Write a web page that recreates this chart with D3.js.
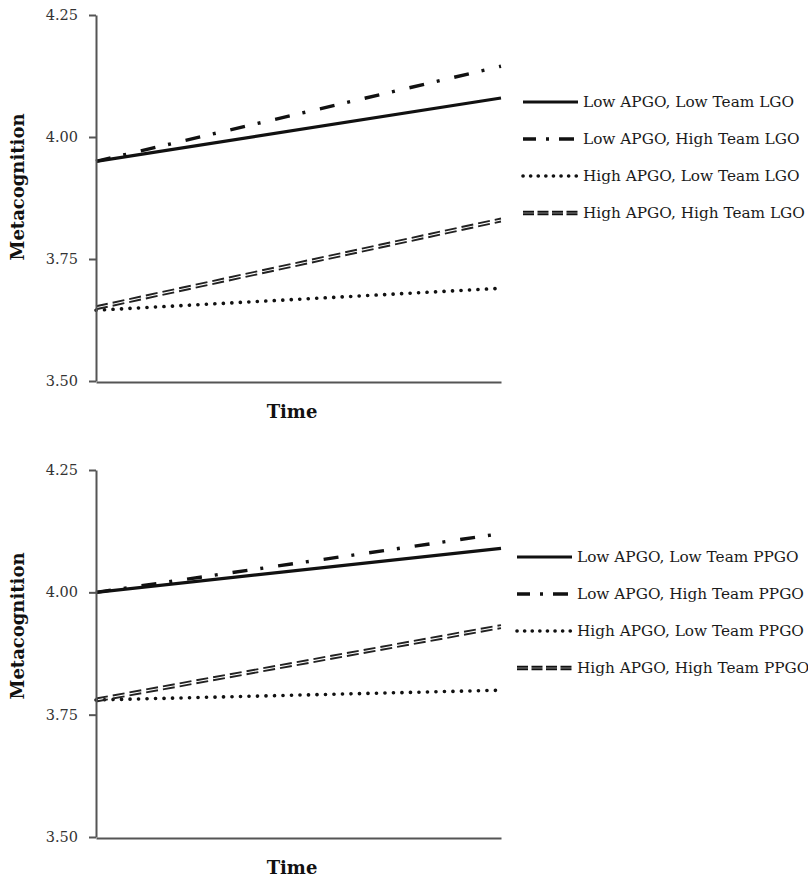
<!DOCTYPE html>
<html>
<head>
<meta charset="utf-8">
<script src="https://cdn.jsdelivr.net/npm/d3@7"></script>
<style>
  body { margin: 0; background: #fff; }
  svg { display: block; }
  .axis path, .axis line { stroke: #555; stroke-width: 2; }
  .title { font-family: "DejaVu Serif", serif; font-weight: bold; fill: #111; }
  .legend text { font-family: "DejaVu Serif", serif; font-size: 15.3px; fill: #1a1a1a; }
</style>
</head>
<body>
<svg id="chart" width="808" height="877"></svg>
<script>
// tick labels shared by both panels
var yTicks = [3.50, 3.75, 4.00, 4.25];
var timeDomain = [0, 1];

// panel 1: learning goal orientation
var lgoLabels = ["Low APGO, Low Team LGO", "Low APGO, High Team LGO",
                 "High APGO, Low Team LGO", "High APGO, High Team LGO"];
var lgoStart = [3.95, 3.95, 3.645, 3.65];
var lgoEnd   = [4.08, 4.145, 3.69, 3.83];

// panel 2: performance prove goal orientation
var ppgoLabels = ["Low APGO, Low Team PPGO", "Low APGO, High Team PPGO",
                  "High APGO, Low Team PPGO", "High APGO, High Team PPGO"];
var ppgoStart = [4.00, 4.00, 3.78, 3.78];
var ppgoEnd   = [4.09, 4.12, 3.80, 3.93];

// line styles, one per series
var styles = [
  { dash: null,          width: 3.2, cap: "butt",  dbl: false },
  { dash: "15 13 3 15",  width: 3.4, cap: "butt",  dbl: false },
  { dash: "0.1 8.4",     width: 3.6, cap: "round", dbl: false },
  { dash: "12 5",        width: 1.9, cap: "butt",  dbl: true }
];
var legendDash = [null, "13 10 3 10 15", "0.1 7.5", "11 3.5"];

var svg = d3.select("#chart");

function panel(cfg) {
  var x = d3.scaleLinear().domain(timeDomain).range([96, 501]);
  var y = d3.scaleLinear().domain([3.5, 4.25]).range([cfg.bottom, cfg.top]);
  var g = svg.append("g");

  var series = cfg.labels.map(function(l, i) {
    return { label: l, values: [cfg.start[i], cfg.end[i]], style: styles[i] };
  });

  var line = d3.line().x(function(d, i) { return x(timeDomain[i]); }).y(function(d) { return y(d); });

  series.forEach(function(s) {
    var offs = s.style.dbl ? [-1.5, 1.5] : [0];
    offs.forEach(function(o) {
      g.append("path")
        .datum(s.values)
        .attr("transform", "translate(0," + o + ")")
        .attr("d", line)
        .attr("fill", "none")
        .attr("stroke", s.style.dbl ? "#222" : "#111")
        .attr("stroke-width", s.style.width)
        .attr("stroke-linecap", s.style.cap)
        .attr("stroke-dasharray", s.style.dash);
    });
  });

  var yAxis = d3.axisLeft(y).tickValues(yTicks).tickFormat(d3.format(".2f"))
    .tickSize(7).tickSizeOuter(0).tickPadding(11);
  var ya = g.append("g").attr("class", "axis").attr("transform", "translate(96,0)").call(yAxis);
  ya.selectAll(".tick text")
    .attr("font-family", "DejaVu Serif, serif")
    .attr("font-size", 14.5)
    .attr("fill", "#333");

  var xAxis = d3.axisBottom(x).tickValues([]).tickSizeOuter(0);
  g.append("g").attr("class", "axis").attr("transform", "translate(0," + (cfg.bottom + 1) + ")").call(xAxis);

  g.append("text").attr("class", "title")
    .attr("x", 292).attr("y", cfg.bottom + 37)
    .attr("text-anchor", "middle").attr("font-size", 18)
    .text("Time");

  g.append("text").attr("class", "title")
    .attr("transform", "translate(24," + cfg.labelY + ") rotate(-90)")
    .attr("text-anchor", "middle").attr("font-size", 18)
    .text("Metacognition");

  var lg = g.append("g").attr("class", "legend");
  series.forEach(function(s, i) {
    var ly = cfg.legendY[i];
    var offs = s.style.dbl ? [-1.3, 1.3] : [0];
    offs.forEach(function(o) {
      lg.append("line")
        .attr("x1", cfg.legendX).attr("x2", cfg.legendX + 55)
        .attr("y1", ly + o).attr("y2", ly + o)
        .attr("stroke", "#111")
        .attr("stroke-width", s.style.width)
        .attr("stroke-linecap", s.style.cap)
        .attr("stroke-dasharray", legendDash[i]);
    });
    lg.append("text")
      .attr("x", cfg.legendX + 60).attr("y", ly + 5)
      .text(s.label);
  });
}

panel({ top: 15, bottom: 381, labels: lgoLabels, start: lgoStart, end: lgoEnd,
        labelY: 187, legendX: 523, legendY: [102, 139, 176, 213] });
panel({ top: 470, bottom: 837, labels: ppgoLabels, start: ppgoStart, end: ppgoEnd,
        labelY: 626, legendX: 517, legendY: [557, 594, 631, 668] });
</script>
</body>
</html>
